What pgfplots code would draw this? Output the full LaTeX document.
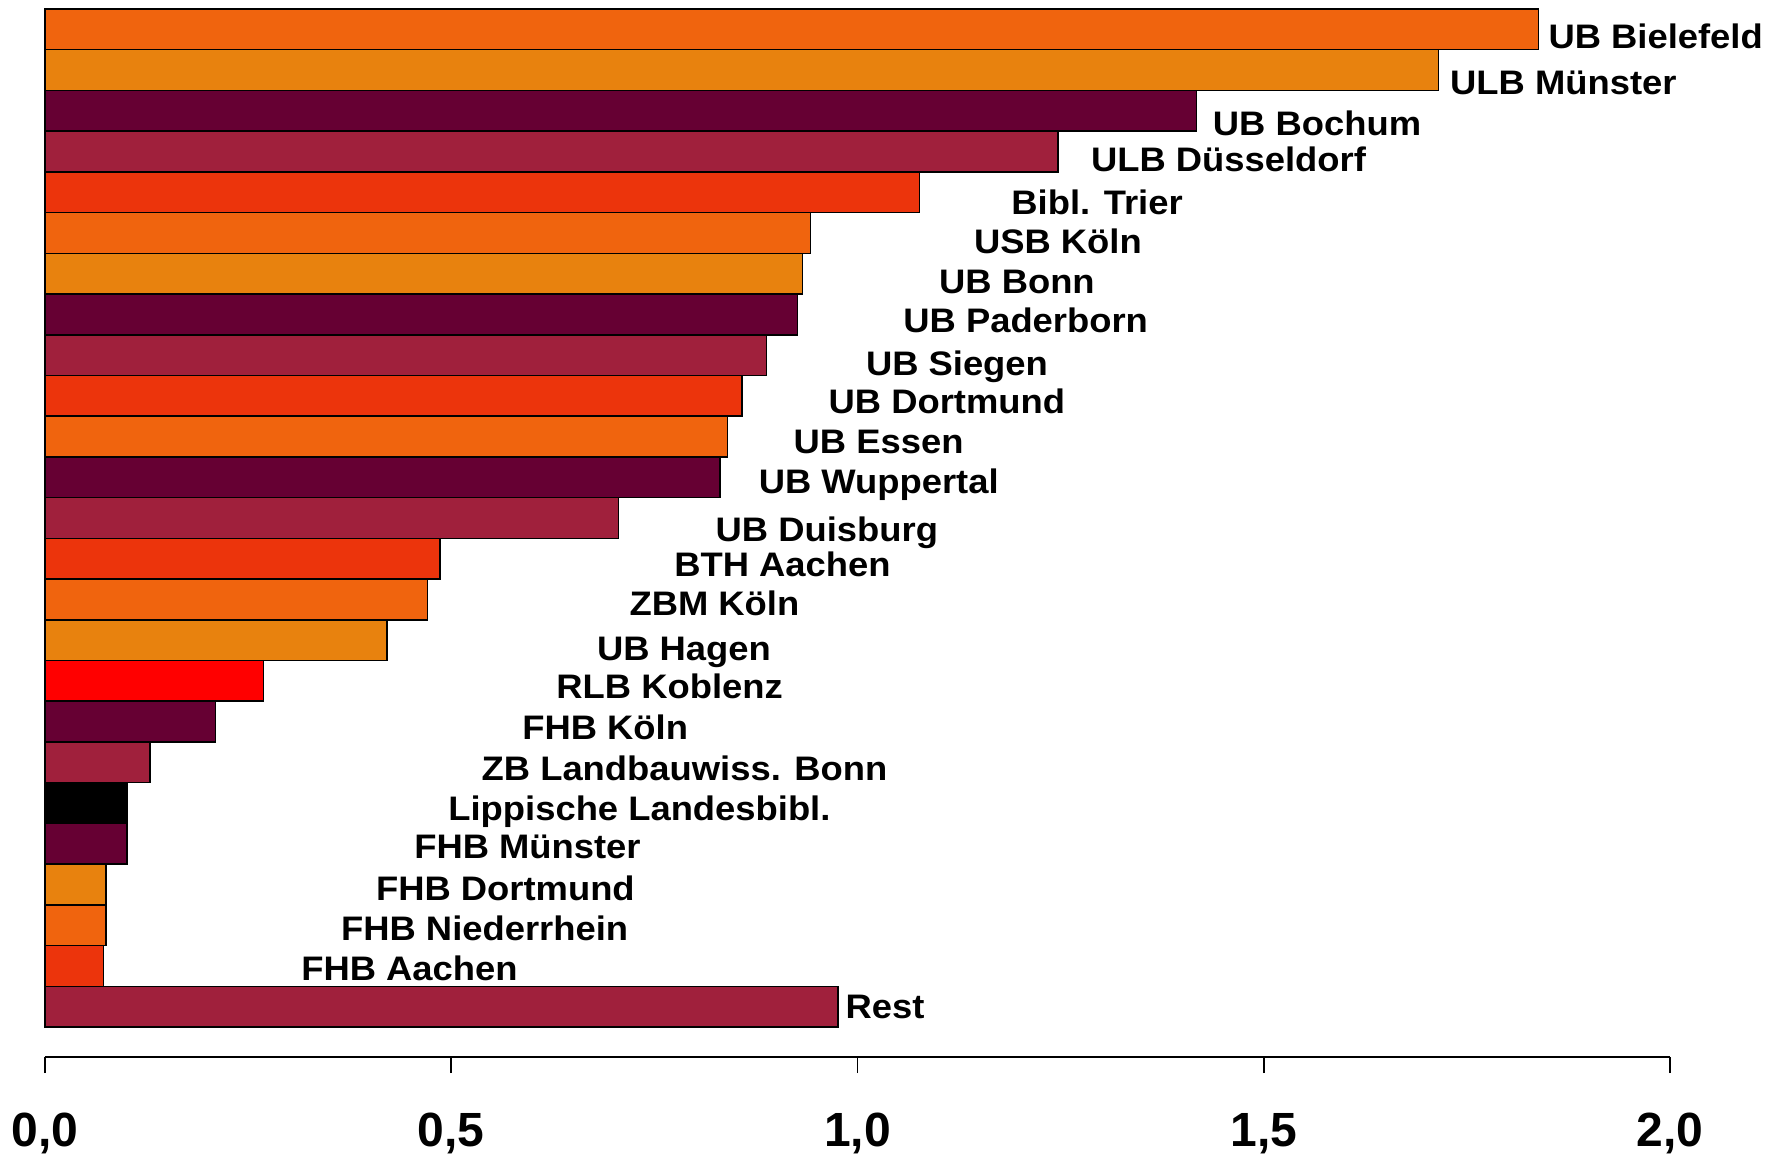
\documentclass[border=0pt]{standalone}
\usepackage{pgfplots}
\pgfplotsset{compat=1.18}
\usepackage{pgfplotstable}
\usepackage{fontspec}
\setmainfont{Liberation Sans}
\newfontfamily\labfont{Liberation Sans Bold}[FakeStretch=1.07]
\newfontfamily\tickfont{Liberation Sans Bold}

\definecolor{orA}{RGB}{240,100,14}
\definecolor{orB}{RGB}{232,130,14}
\definecolor{purp}{RGB}{102,0,51}
\definecolor{crim}{RGB}{160,32,60}
\definecolor{redor}{RGB}{236,52,12}
\definecolor{pure}{RGB}{255,0,0}

% label positions: x where the text starts, y of the baseline (bar index units)
\pgfplotstableread{
lx     ly     label
1.850  1.47   {UB Bielefeld}
1.729  2.61   {ULB Münster}
1.437  3.61   {UB Bochum}
1.287  4.50   {ULB Düsseldorf}
1.189  5.54   {Bibl. Trier}
1.143  6.51   {USB Köln}
1.100  7.48   {UB Bonn}
1.056  8.44   {UB Paderborn}
1.010  9.50   {UB Siegen}
0.964  10.44  {UB Dortmund}
0.921  11.42  {UB Essen}
0.878  12.39  {UB Wuppertal}
0.825  13.58  {UB Duisburg}
0.774  14.44  {BTH Aachen}
0.719  15.40  {ZBM Köln}
0.679  16.51  {UB Hagen}
0.629  17.44  {RLB Koblenz}
0.587  18.44  {FHB Köln}
0.537  19.44  {ZB Landbauwiss. Bonn}
0.496  20.44  {Lippische Landesbibl.}
0.454  21.36  {FHB Münster}
0.407  22.39  {FHB Dortmund}
0.364  23.37  {FHB Niederrhein}
0.315  24.37  {FHB Aachen}
0.985  25.30  {Rest}
}\labels

\pgfplotsset{mybar/.style={xbar, bar width=1, bar shift=0pt, draw=black, line width=0.75pt, fill=#1}}

\begin{document}
\begin{tikzpicture}
\begin{axis}[
    scale only axis,
    width=812.5pt, height=524pt,
    xmin=0, xmax=2,
    ymin=0.5, ymax=26.237,
    y dir=reverse,
    axis x line=bottom,
    axis y line=none,
    x axis line style={-, line width=0.9pt},
    xtick={0,0.5,1,1.5,2},
    xticklabels={{0,0},{0,5},{1,0},{1,5},{2,0}},
    xticklabel style={font=\tickfont\fontsize{24}{26}\selectfont, anchor=north, inner sep=0pt, yshift=-20pt},
    tick align=outside,
    major tick length=8pt,
    every tick/.style={black, line width=0.8pt},
    ytick=\empty,
    clip=false,
]
\addplot[mybar=orA] coordinates {(1.838,1) (0.942,6) (0.840,11) (0.471,15) (0.075,23)};
\addplot[mybar=orB] coordinates {(1.715,2) (0.932,7) (0.421,16) (0.075,22)};
\addplot[mybar=purp] coordinates {(1.417,3) (0.926,8) (0.831,12) (0.210,18) (0.101,21)};
\addplot[mybar=crim] coordinates {(1.247,4) (0.888,9) (0.706,13) (0.129,19) (0.976,25)};
\addplot[mybar=redor] coordinates {(1.076,5) (0.858,10) (0.486,14) (0.072,24)};
\addplot[mybar=pure] coordinates {(0.269,17)};
\addplot[mybar=black] coordinates {(0.101,20)};
\addplot[only marks, mark=none,
    nodes near coords, point meta=explicit symbolic,
    every node near coord/.style={anchor=base west, inner sep=0pt, text=black,
        font=\labfont\fontsize{17}{19}\selectfont}]
    table[x=lx, y=ly, meta=label] {\labels};
\end{axis}
\pgfresetboundingbox
\path[use as bounding box] ([xshift=-22.5pt,yshift=-50.5pt]current axis.south west)
    rectangle ([xshift=862pt,yshift=4.5pt]current axis.north west);
\end{tikzpicture}
\end{document}
